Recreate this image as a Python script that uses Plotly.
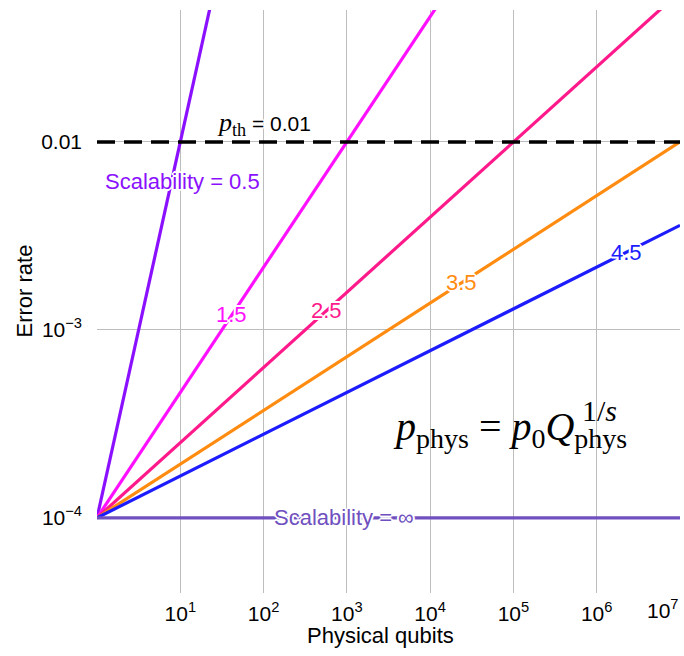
import numpy as np
import plotly.graph_objects as go

# ---- data ----
scalability = ["0.5", "1.5", "2.5", "3.5", "4.5", "inf"]
colors = ["#8a10ff", "#ff10ff", "#ff1a8c", "#ff8c10", "#1c1cff", "#7050c0"]
q_start = [1, 1, 1, 1, 1, 1]
p_start = [1e-4, 1e-4, 1e-4, 1e-4, 1e-4, 1e-4]
q_end = [100, 1e6, 1e7, 1e7, 1e7, 1e7]
p_end = [1.0, 1.0, 0.063, 0.01, 0.0036, 1e-4]
threshold_q = [1, 1e7]
threshold_p = [0.01, 0.01]

x_tickvals = [1e1, 1e2, 1e3, 1e4, 1e5, 1e6]
x_ticktext = ["10<sup>1</sup>", "10<sup>2</sup>", "10<sup>3</sup>", "10<sup>4</sup>",
              "10<sup>5</sup>", "10<sup>6</sup>"]
y_tickvals = [1e-4, 1e-3, 1e-2]
y_ticktext = ["10<sup>\u22124</sup>", "10<sup>\u22123</sup>", "0.01"]

fig = go.Figure()
for s, c, q0, p0, q1, p1 in zip(scalability, colors, q_start, p_start, q_end, p_end):
    fig.add_trace(go.Scatter(x=[q0, q1], y=[p0, p1], mode="lines",
                             line=dict(color=c, width=3.2), showlegend=False,
                             hoverinfo="skip"))
fig.add_trace(go.Scatter(x=threshold_q, y=threshold_p, mode="lines",
                         line=dict(color="black", width=3.5, dash="18px,9px"),
                         showlegend=False, hoverinfo="skip"))

SANS = "Liberation Sans, Arial, sans-serif"
SERIF = "Liberation Serif, Times New Roman, serif"
halo = ("1px 1px 0 white, -1px -1px 0 white, 1px -1px 0 white, -1px 1px 0 white, "
        "2px 0 0 white, -2px 0 0 white, 0 2px 0 white, 0 -2px 0 white")

def lab(text, lx, ly, color, size=22, font=SANS, shadow=halo, **kw):
    fig.add_annotation(x=lx, y=ly, xref="x", yref="y", text=text, showarrow=False,
                       font=dict(family=font, size=size, color=color, shadow=shadow),
                       **kw)

lab("Scalability = 0.5", 1.03, -2.21, colors[0])
lab("1.5", 1.62, -2.92, colors[1])
lab("2.5", 2.76, -2.896, colors[2])
lab("3.5", 4.38, -2.749, colors[3])
lab("4.5", 6.36, -2.587, colors[4])
lab("Scalability = \u221e", 2.96, -4.0, colors[5])
lab('<span style="font-family:Liberation Serif;font-size:26px"><i>p</i><sub>th</sub></span> = 0.01',
    2.01, -1.905, "black", size=21)

# formula
lab("<i>p</i><sub>phys</sub> = <i>p</i><sub>0</sub><i>Q</i><sub>phys</sub>",
    4.96, -3.525, "black", size=40, font=SERIF, shadow="none")
lab("1/<i>s</i>", 6.0, -3.43, "black", size=30, font=SERIF, shadow="none",
    xanchor="left", xshift=-17)

# 10^7 tick label (shifted left to stay on page)
fig.add_annotation(x=7.0, y=0, xref="x", yref="paper", text="10<sup>7</sup>",
                   showarrow=False, xanchor="right", yanchor="top", yshift=-1, xshift=1,
                   font=dict(family=SANS, size=21, color="black"))
# axis titles
fig.add_annotation(x=0.5, y=0, xref="paper", yref="paper", text="Physical qubits",
                   showarrow=False, xanchor="center", yanchor="middle", yshift=-42,
                   xshift=-8, font=dict(family=SANS, size=22, color="black"))
fig.add_annotation(x=0, y=0.5, xref="paper", yref="paper", text="Error rate",
                   showarrow=False, xanchor="center", yanchor="middle", textangle=-90,
                   xshift=-73, yshift=10, font=dict(family=SANS, size=22, color="black"))

fig.update_xaxes(type="log", range=[0, 7], tickvals=x_tickvals, ticktext=x_ticktext,
                 showgrid=True, gridcolor="#bdbdbd", gridwidth=1.3, zeroline=False,
                 showline=False, ticks="", ticklabelstandoff=6, automargin=False,
                 tickfont=dict(family=SANS, size=21, color="black"))
fig.update_yaxes(type="log", range=[-4.4, -1.298], tickvals=y_tickvals, ticktext=y_ticktext,
                 showgrid=True, gridcolor="#bdbdbd", gridwidth=1.3, zeroline=False,
                 showline=False, ticks="", ticklabelstandoff=14, automargin=False,
                 tickfont=dict(family=SANS, size=21, color="black"))

fig.update_layout(width=684, height=656, plot_bgcolor="white", paper_bgcolor="white",
                  margin=dict(l=97, r=4, t=10, b=63))
fig.write_html("out.html")
